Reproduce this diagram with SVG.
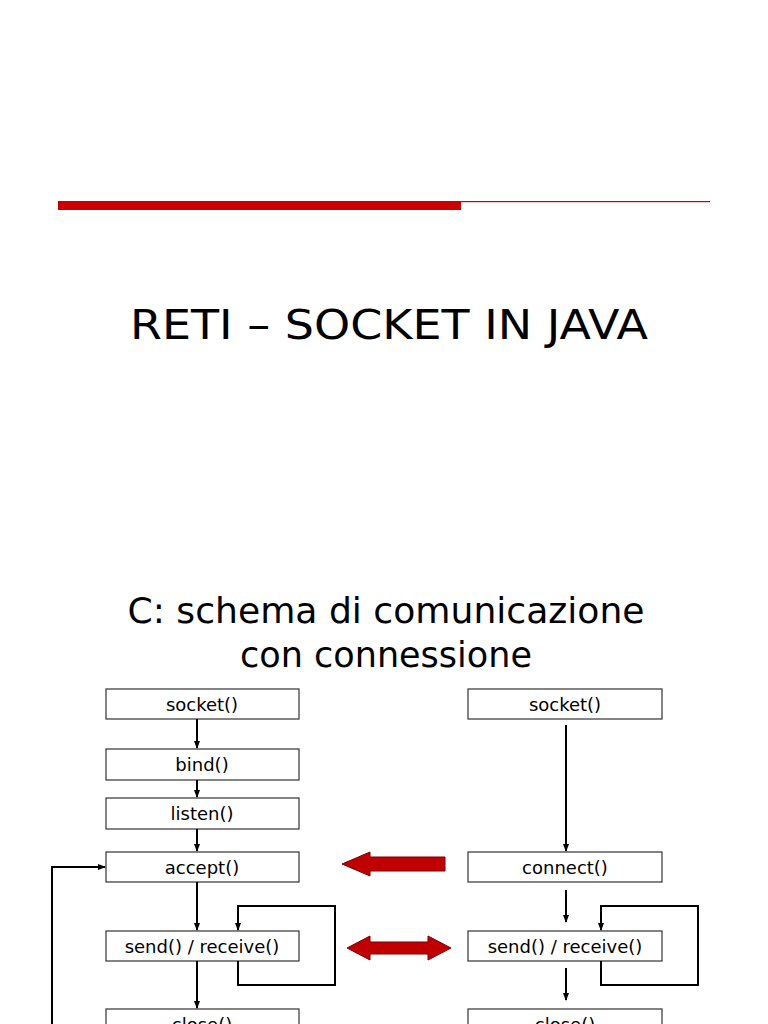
<svg xmlns="http://www.w3.org/2000/svg" width="768" height="1024" viewBox="0 0 768 1024">
<style>
.t{font-family:"DejaVu Sans",sans-serif;fill:#000}
.b{fill:#fff;stroke:#333;stroke-width:1.2}
.bt{font-family:"DejaVu Sans",sans-serif;font-size:18px;text-anchor:middle}
.c{fill:none;stroke:#000;stroke-width:2}
.r{fill:#c00000;stroke:#7a0000;stroke-width:1}
</style>
<defs><marker id="a" markerWidth="8" markerHeight="8" refX="7" refY="4" orient="auto" markerUnits="userSpaceOnUse"><path d="M0,1 L8,4 L0,7 z" fill="#000"/></marker></defs>
<rect x="58" y="201" width="403" height="9" fill="#cc0000"/>
<rect x="461" y="201" width="249" height="1.2" fill="#cc0000"/>
<text class="t" x="389" y="339" font-size="40" text-anchor="middle" textLength="518" lengthAdjust="spacingAndGlyphs">RETI – SOCKET IN JAVA</text>
<text class="t" x="386" y="623" font-size="35" text-anchor="middle" textLength="517" lengthAdjust="spacingAndGlyphs">C: schema di comunicazione</text>
<text class="t" x="386" y="667" font-size="35" text-anchor="middle">con connessione</text>
<g id="l-socket"><rect class="b" x="106" y="689" width="193" height="30"/><text class="bt" x="202" y="711">socket()</text></g>
<g id="l-bind"><rect class="b" x="106" y="749" width="193" height="31"/><text class="bt" x="202" y="771">bind()</text></g>
<g id="l-listen"><rect class="b" x="106" y="798" width="193" height="31"/><text class="bt" x="202" y="820">listen()</text></g>
<g id="l-accept"><rect class="b" x="106" y="852" width="193" height="30"/><text class="bt" x="202" y="874">accept()</text></g>
<g id="l-send"><rect class="b" x="106" y="931" width="193" height="30"/><text class="bt" x="202" y="953">send() / receive()</text></g>
<g id="l-close"><rect class="b" x="106" y="1009" width="193" height="30"/><text class="bt" x="202" y="1031">close()</text></g>
<g id="r-socket"><rect class="b" x="468" y="689" width="194" height="30"/><text class="bt" x="565" y="711">socket()</text></g>
<g id="r-connect"><rect class="b" x="468" y="852" width="194" height="30"/><text class="bt" x="565" y="874">connect()</text></g>
<g id="r-send"><rect class="b" x="468" y="931" width="194" height="30"/><text class="bt" x="565" y="953">send() / receive()</text></g>
<g id="r-close"><rect class="b" x="468" y="1009" width="194" height="30"/><text class="bt" x="565" y="1031">close()</text></g>
<g id="connectors">
<path class="c" d="M197,719 V748" marker-end="url(#a)"/>
<path class="c" d="M197,780 V797" marker-end="url(#a)"/>
<path class="c" d="M197,829 V851" marker-end="url(#a)"/>
<path class="c" d="M197,882 V930" marker-end="url(#a)"/>
<path class="c" d="M197,961 V1008" marker-end="url(#a)"/>
<path class="c" d="M238,961 V985 H335 V906 H238 V930" marker-end="url(#a)"/>
<path class="c" d="M52,1024 V867 H105" marker-end="url(#a)"/>
<path class="c" d="M566,725 V851" marker-end="url(#a)"/>
<path class="c" d="M566,890 V922"  marker-end="url(#a)"/>
<path class="c" d="M566,968 V1000" marker-end="url(#a)"/>
<path class="c" d="M601,961 V985 H698 V906 H601 V930" marker-end="url(#a)"/>
<path class="r" d="M445,857 H370 V852 L342,864 L370,876 V871 H445 z"/>
<path class="r" d="M347,948 L370,936 V942 H428 V936 L451,948 L428,960 V954 H370 V960 z"/>
</g>
</svg>
